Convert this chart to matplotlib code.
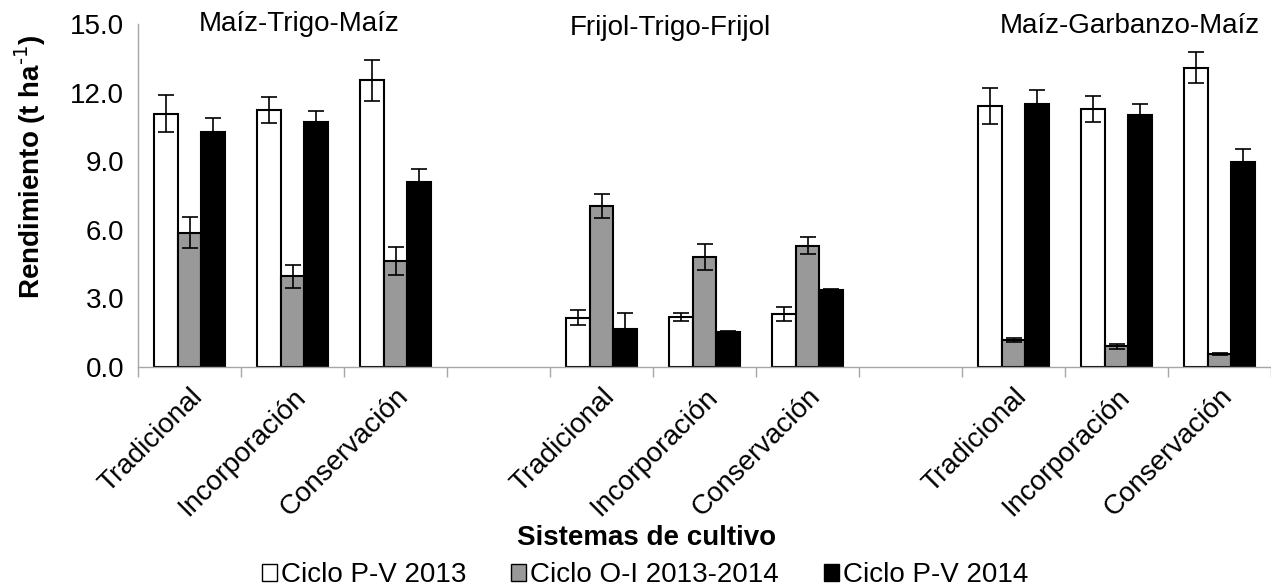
import numpy as np
import matplotlib.pyplot as plt
from matplotlib.patches import Patch

plt.rcParams['font.family'] = ['Liberation Sans', 'DejaVu Sans']

# Sistemas de labranza dentro de cada rotacion
sistemas = ['Tradicional', 'Incorporación', 'Conservación']
rotaciones = ['Maíz-Trigo-Maíz', 'Frijol-Trigo-Frijol', 'Maíz-Garbanzo-Maíz']
series = ['Ciclo P-V 2013', 'Ciclo O-I 2013-2014', 'Ciclo P-V 2014']

# Rendimiento (t/ha), 3 rotaciones x 3 sistemas
pv2013 = [11.08, 11.24, 12.54, 2.16, 2.19, 2.32, 11.40, 11.28, 13.10]
oi2013 = [5.88, 3.97, 4.62, 7.04, 4.80, 5.31, 1.18, 0.90, 0.58]
pv2014 = [10.29, 10.70, 8.09, 1.68, 1.53, 3.37, 11.50, 11.02, 8.95]

err_pv2013 = [0.80, 0.58, 0.89, 0.31, 0.19, 0.32, 0.79, 0.57, 0.69]
err_oi2013 = [0.68, 0.50, 0.61, 0.53, 0.58, 0.39, 0.10, 0.10, 0.04]
err_pv2014 = [0.58, 0.48, 0.57, 0.68, 0.02, 0.02, 0.60, 0.48, 0.58]

# posiciones en el eje: un hueco vacio entre rotaciones
pos = np.array([0, 1, 2, 4, 5, 6, 8, 9, 10])
labels = sistemas * 3

fs = 20
fig = plt.figure(figsize=(12.71, 5.88), dpi=100)
ax = fig.add_axes([0.1086, 0.376, 0.8914, 0.583])

w = 0.227
colors = ['white', '#999999', 'black']
vals = [pv2013, oi2013, pv2014]
errs = [err_pv2013, err_oi2013, err_pv2014]
for i in range(3):
    ax.bar(pos + (i - 1) * w, vals[i], width=w, color=colors[i],
           edgecolor='black', linewidth=1.5, zorder=2)
    ax.errorbar(pos + (i - 1) * w, vals[i], yerr=errs[i], fmt='none',
                ecolor='black', elinewidth=1.2, capsize=6, capthick=1.2, zorder=3)

ax.set_xlim(-0.5, 10.5)
ax.set_ylim(0, 15)
ax.set_yticks(np.arange(0, 15.1, 3))
ax.set_yticklabels(['%.1f' % v for v in np.arange(0, 15.1, 3)], fontsize=fs)
ax.tick_params(axis='y', length=0, pad=10)

ax.set_xticks(pos)
ax.set_xticklabels(labels, rotation=45, ha='right', rotation_mode='anchor', fontsize=fs)
ax.tick_params(axis='x', which='major', length=0, pad=12)
ax.set_xticks(np.arange(-0.5, 10.6, 1), minor=True)
ax.tick_params(axis='x', which='minor', length=7, color='#a6a6a6', width=1)

for s in ['top', 'right']:
    ax.spines[s].set_visible(False)
for s in ['left', 'bottom']:
    ax.spines[s].set_color('#a6a6a6')
    ax.spines[s].set_linewidth(1)

ax.set_ylabel('Rendimiento (t ha$^{\\text{-1}}$)', fontsize=fs, fontweight='bold')
ax.yaxis.set_label_coords(-90 / 1133, 0.583)

# nombres de las rotaciones
fig.text(299 / 1271, 1 - 24 / 588, rotaciones[0], fontsize=fs, ha='center', va='center')
fig.text(670 / 1271, 1 - 28 / 588, rotaciones[1], fontsize=fs, ha='center', va='center')
fig.text(1130 / 1271, 1 - 26 / 588, rotaciones[2], fontsize=fs, ha='center', va='center')

fig.text(647 / 1271, 1 - 538 / 588, 'Sistemas de cultivo', fontsize=fs, fontweight='bold',
         ha='center', va='center')

handles = [Patch(facecolor=c, edgecolor='black', linewidth=1) for c in colors]
fig.legend(handles, series, loc='center', bbox_to_anchor=(645 / 1271, 1 - 575 / 588),
           ncol=3, frameon=False, fontsize=fs, handlelength=0.55, handleheight=0.55,
           handletextpad=0.15, columnspacing=1.6, borderpad=0)

fig.savefig('out.png', dpi=100)
